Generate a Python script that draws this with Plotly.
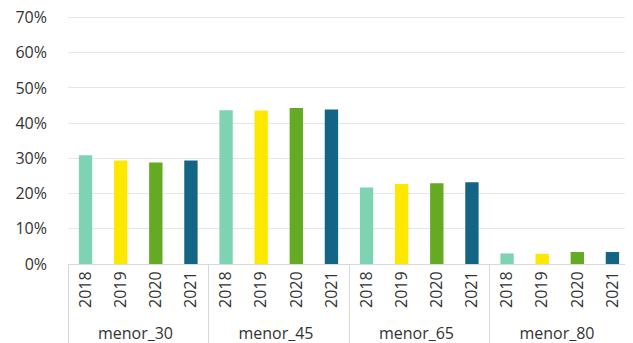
import plotly.graph_objects as go

groups = ["menor_30", "menor_45", "menor_65", "menor_80"]
years = ["2018", "2019", "2020", "2021"]
values = {
    "menor_30": [0.309, 0.294, 0.288, 0.294],
    "menor_45": [0.437, 0.436, 0.443, 0.439],
    "menor_65": [0.217, 0.227, 0.229, 0.232],
    "menor_80": [0.030, 0.029, 0.034, 0.034],
}
year_colors = ["#7dd3b2", "#ffe800", "#64aa22", "#136485"]

x_outer = []
x_inner = []
y_vals = []
colors = []
for g in groups:
    for i, yr in enumerate(years):
        x_outer.append(g)
        x_inner.append(yr)
        y_vals.append(values[g][i])
        colors.append(year_colors[i])

fig = go.Figure(go.Bar(
    x=[x_outer, x_inner],
    y=y_vals,
    marker=dict(color=colors, line=dict(width=0)),
    hovertemplate="%{x}: %{y:.1%}<extra></extra>",
))

# page body has an 8px default margin, so the figure is sized to fit inside it
fig.update_layout(
    width=625,
    height=335,
    margin=dict(l=60, r=3, t=6, b=79),
    plot_bgcolor="white",
    paper_bgcolor="white",
    bargap=0.62,
    showlegend=False,
    font=dict(family="Open Sans, sans-serif", size=16, color="#333333"),
    xaxis=dict(
        tickangle=-90,
        showdividers=True,
        dividercolor="#d9d9d9",
        dividerwidth=1,
        showline=True,
        linecolor="#d9d9d9",
        ticks="",
        automargin=False,
        tickfont=dict(size=16, color="#333333"),
    ),
    yaxis=dict(
        range=[0, 0.71],
        tickvals=[0, 0.1, 0.2, 0.3, 0.4, 0.5, 0.6, 0.7],
        tickformat=".0%",
        showgrid=True,
        gridcolor="#e6e6e6",
        zeroline=False,
        ticks="",
        ticklabelstandoff=20,
        ticklabeloverflow="allow",
        automargin=False,
        tickfont=dict(size=16, color="#333333"),
    ),
)

fig.write_html("out.html")
